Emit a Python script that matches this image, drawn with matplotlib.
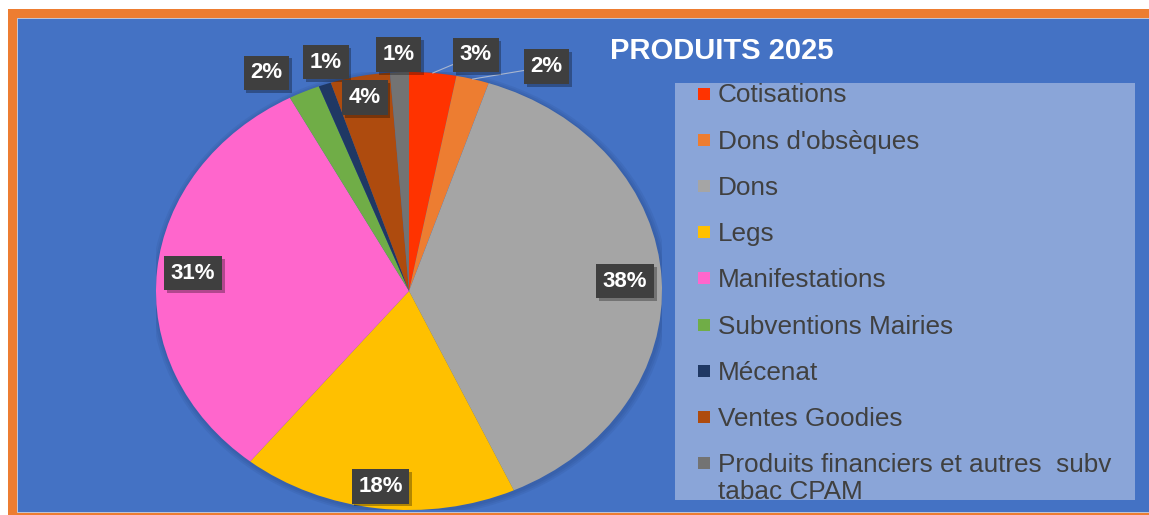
import numpy as np
import matplotlib
matplotlib.use("Agg")
import matplotlib.pyplot as plt
from matplotlib.patches import Rectangle, Circle
import matplotlib.patheffects as pe

# ---------------- data ----------------
categories = ["Cotisations", "Dons d'obsèques", "Dons", "Legs", "Manifestations",
              "Subventions Mairies", "Mécenat", "Ventes Goodies",
              "Produits financiers et autres  subv\ntabac CPAM"]
values = [3.0, 2.1, 38.1, 17.6, 31.4, 2.0, 0.8, 3.8, 1.2]
title = "PRODUITS 2025"

# ---------------- style ----------------
colors = ["#FF3300", "#ED7D31", "#A5A5A5", "#FFC000", "#FF66CC",
          "#70AD47", "#1F3864", "#AE4B0E", "#737373"]
# label placement: radius factor and angular shift (deg) from wedge mid-angle
label_r = [1.11, 1.16, 0.855, 0.90, 0.858, 1.145, 1.095, 0.90, 1.08]
label_shift = [8.4, 13.4, 0, 0, 0, -5.0, 2.0, 0, 0]
leader = [True, True, False, False, False, False, False, False, False]

W, H = 1149, 515
BG_BLUE = "#4472C4"
LEG_BLUE = "#8AA5D8"
ORANGE = "#ED7D31"
FONT = "Liberation Sans"

fig = plt.figure(figsize=(W / 100, H / 100), dpi=100)
fig.patch.set_facecolor("white")

def fx(px):
    return px / W

def fy(py):
    return 1 - py / H

# frame: orange border and blue background
fig.add_artist(Rectangle((fx(8), 0), 1 - fx(8), fy(9), transform=fig.transFigure,
                         facecolor=ORANGE, edgecolor="none", zorder=0))
fig.add_artist(Rectangle((fx(17), fy(512)), 1.01 - fx(17), fy(18) - fy(512),
                         transform=fig.transFigure, facecolor=BG_BLUE,
                         edgecolor="#C9D3E6", linewidth=0.6, zorder=0))

# legend panel
fig.add_artist(Rectangle((fx(675), fy(500)), fx(1135) - fx(675), fy(83) - fy(500),
                         transform=fig.transFigure, facecolor=LEG_BLUE,
                         edgecolor="none", zorder=1))

# ---------------- pie ----------------
cx, cy, rx, ry = 409, 291, 253, 219
ax = fig.add_axes([fx(cx - rx), fy(cy + ry), fx(2 * rx), fy(cy - ry) - fy(cy + ry)])
ax.set_facecolor("none")
ax.patch.set_alpha(0)
# soft shadow under the pie
for k, a in enumerate([0.10, 0.10, 0.10]):
    ax.add_patch(Circle((0.004, -0.006), 1.0 + 0.008 * (k + 1), facecolor="#1E3A70",
                        edgecolor="none", alpha=a, zorder=0))
wedges, _ = ax.pie(values, colors=colors, startangle=90, counterclock=False,
                   radius=1.0, wedgeprops=dict(linewidth=0))
ax.set_aspect("auto")
ax.set_xlim(-1, 1)
ax.set_ylim(-1, 1)
ax.axis("off")

total = float(sum(values))
cum = np.cumsum([0] + values[:-1])
for i, v in enumerate(values):
    mid = (cum[i] + v / 2) / total * 360.0
    ang = np.deg2rad(mid + label_shift[i])
    lx, ly = label_r[i] * np.sin(ang), label_r[i] * np.cos(ang)
    if leader[i]:
        m = np.deg2rad(mid)
        ax.plot([np.sin(m), lx], [np.cos(m), ly], color="#A9B6CF", lw=0.8,
                zorder=3, clip_on=False)
    t = ax.text(lx, ly, f"{round(v / total * 100)}%", ha="center", va="center",
                fontsize=16, fontweight="bold", color="white", family=FONT,
                zorder=5, clip_on=False,
                bbox=dict(boxstyle="square,pad=0.3", facecolor="#3F3F3F",
                          edgecolor="none"))
    t.get_bbox_patch().set_path_effects([
        pe.SimplePatchShadow(offset=(2, -2), shadow_rgbFace="black", alpha=0.3),
        pe.Normal()])

# ---------------- legend (manual) ----------------
y0, dy, line_h = 93.5, 46.2, 27.0
for i, (name, c) in enumerate(zip(categories, colors)):
    yc = y0 + i * dy
    fig.add_artist(Rectangle((fx(698), fy(yc + 6)), fx(12), fy(yc - 6) - fy(yc + 6),
                             transform=fig.transFigure, facecolor=c,
                             edgecolor="none", zorder=2))
    for k, line in enumerate(name.split("\n")):
        fig.text(fx(718), fy(yc + 9 + k * line_h), line, ha="left", va="baseline",
                 fontsize=18.8, color="#404040", family=FONT, zorder=3)

# ---------------- title ----------------
fig.text(fx(722), fy(51), title, ha="center", va="center", fontsize=21,
         fontweight="bold", color="white", family=FONT, zorder=3)

fig.savefig("out.png", dpi=100)
